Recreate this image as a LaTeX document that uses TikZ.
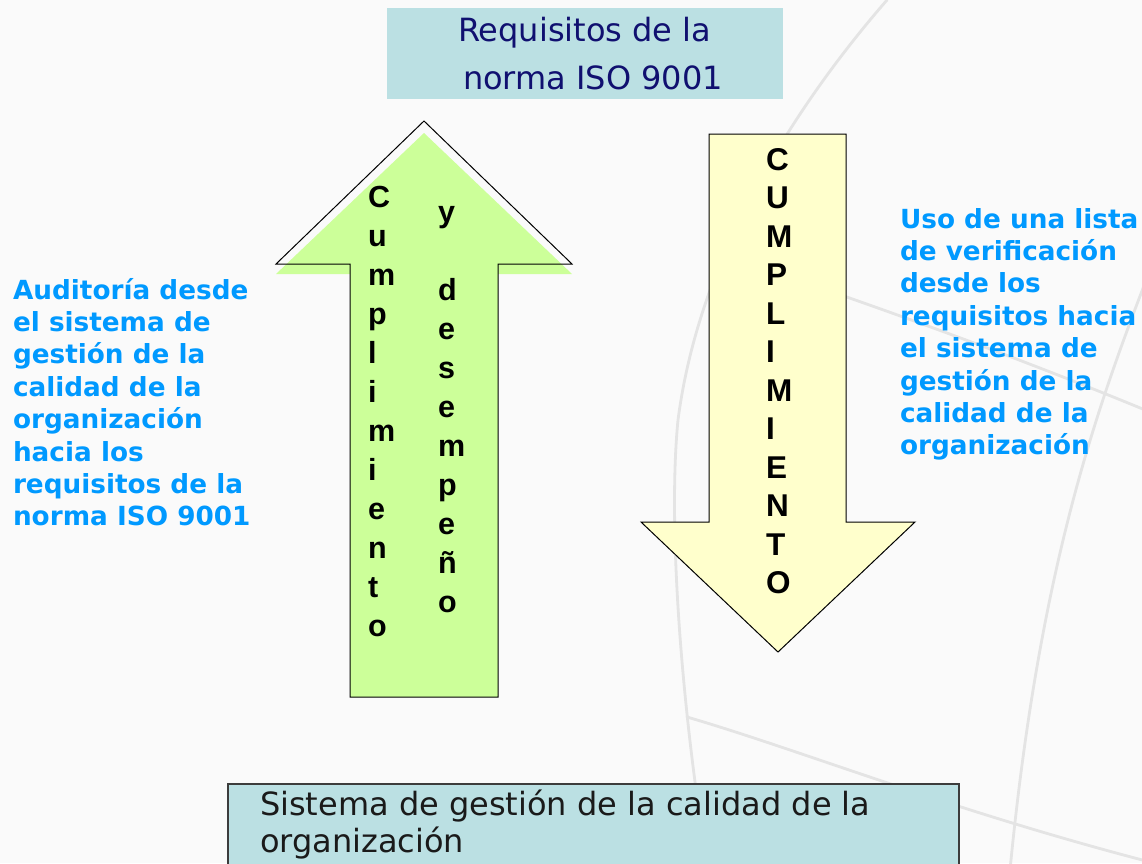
\documentclass[tikz,border=0pt]{standalone}
\usepackage{fontspec}
\setmainfont{DejaVu Sans}
\newfontfamily\arialfont{Liberation Sans}
\definecolor{bg}{RGB}{250,250,250}
\definecolor{globe}{RGB}{228,228,228}
\definecolor{boxcyan}{RGB}{187,224,227}
\definecolor{navy}{RGB}{16,16,112}
\definecolor{skyblue}{RGB}{0,153,255}
\definecolor{lgreen}{RGB}{204,255,153}
\definecolor{lyellow}{RGB}{255,255,204}
\definecolor{boxborder}{RGB}{60,60,60}
\definecolor{darktext}{RGB}{26,26,26}
\begin{document}
\begin{tikzpicture}[x=1pt,y=-1pt,
  txt/.style={inner sep=0pt, outer sep=0pt, anchor=base west},
  bluetext/.style={txt, text=skyblue, font=\fontsize{26.3}{32.4}\selectfont\bfseries},
  stacktext/.style={txt, text=black, font=\arialfont\fontsize{30.5}{39}\selectfont\bfseries},
  globeline/.style={draw=globe, line width=2.8pt, line cap=round},
  arrowline/.style={draw=black, line width=1pt, line join=miter}]
\useasboundingbox (0,0) rectangle (1142,863);
\fill[bg] (0,0) rectangle (1142,863);
\begin{scope}
\clip (0,0) rectangle (1142,863);
% faint globe in the background
\draw[globeline] (887,0) .. controls (800,100) and (700,250) .. (678,420) .. controls (668,520) and (680,700) .. (708,870);
\draw[globeline] (1150,270) .. controls (1100,400) and (1040,560) .. (1010,870);
\draw[globeline] (715,252) .. controls (850,297) and (1000,350) .. (1150,412);
\draw[globeline] (687,717) .. controls (800,750) and (950,810) .. (1150,862);

% top box
\node[fill=boxcyan, minimum width=396pt, minimum height=91pt, inner sep=0pt, anchor=north west] (topbox) at (387,8) {};
\node[txt, text=navy, font=\fontsize{32}{48}\selectfont] (toptext) at (458,41)
  {\begin{tabular}[t]{@{}l@{}}Requisitos de la\\\hspace*{5pt}norma ISO 9001\end{tabular}};

% green up arrow
\fill[lgreen] (350,697) -- (350,274) -- (276,274) -- (424,133) -- (572,274) -- (498,274) -- (498,697) -- cycle;
\draw[arrowline] (350,697) -- (350,264) -- (276,264) -- (424,121) -- (572,264) -- (498,264) -- (498,697) -- cycle;
\node[stacktext] (greenleft) at (368,207)
  {\begin{tabular}[t]{@{}l@{}}C\\u\\m\\p\\l\\i\\m\\i\\e\\n\\t\\o\end{tabular}};
\node[stacktext] (greenright) at (438,222)
  {\begin{tabular}[t]{@{}l@{}}y\\ \\d\\e\\s\\e\\m\\p\\e\\ñ\\o\end{tabular}};

% yellow down arrow
\filldraw[fill=lyellow, arrowline] (709,134) -- (846,134) -- (846,522) -- (915,522) -- (778,652) -- (641,522) -- (709,522) -- cycle;
\node[txt, text=black, font=\arialfont\fontsize{31.5}{38.5}\selectfont\bfseries] (yellowtext) at (766,170)
  {\begin{tabular}[t]{@{}l@{}}C\\U\\M\\P\\L\\I\\M\\I\\E\\N\\T\\O\end{tabular}};

% side texts
\node[bluetext] (lefttext) at (13,299)
  {\begin{tabular}[t]{@{}l@{}}Auditoría desde\\el sistema de\\gestión de la\\calidad de la\\organización\\hacia los\\requisitos de la\\norma ISO 9001\end{tabular}};
\node[bluetext] (righttext) at (900,228)
  {\begin{tabular}[t]{@{}l@{}}Uso de una lista\\de verificación\\desde los\\requisitos hacia\\el sistema de\\gestión de la\\calidad de la\\organización\end{tabular}};

% bottom box
\node[draw=boxborder, line width=1.5pt, fill=boxcyan, minimum width=731pt, minimum height=110pt, inner sep=0pt, anchor=north west] (bottombox) at (227,783) {};
\node[txt, text=darktext, font=\fontsize{32}{37}\selectfont] (bottomtext) at (260,815)
  {\begin{tabular}[t]{@{}l@{}}Sistema de gestión de la calidad de la\\organización\end{tabular}};
\end{scope}
\end{tikzpicture}
\end{document}
